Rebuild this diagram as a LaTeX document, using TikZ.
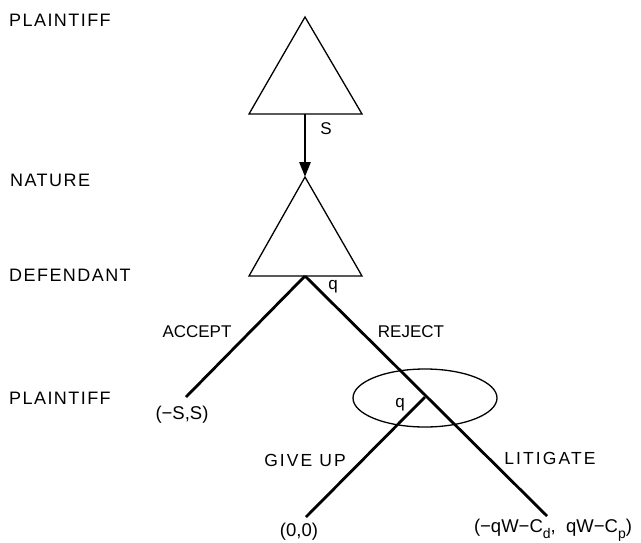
\documentclass[tikz,border=0pt]{standalone}
\usepackage{fontspec}
\setmainfont{Liberation Sans}
\newfontfamily\sidefont[LetterSpace=8]{Liberation Sans}
\newfontfamily\widefont[LetterSpace=12]{Liberation Sans}
\usetikzlibrary{arrows.meta}
\tikzset{
  x=1pt,y=-1pt,
  side/.style={anchor=west,inner sep=0pt,font=\sidefont\fontsize{18}{20}\selectfont},
  lab/.style={inner sep=0pt,font=\fontsize{17}{20}\selectfont},
  widelab/.style={inner sep=0pt,font=\widefont\fontsize{17.5}{20}\selectfont},
  pay/.style={inner sep=0pt,font=\fontsize{18.5}{20}\selectfont},
  tri/.style={line width=1.3pt,line join=miter},
  branch/.style={line width=2.8pt},
  oval/.style={line width=1.3pt},
}
\newcommand{\subtxt}[1]{\raisebox{-0.3em}{\fontsize{14}{16}\selectfont #1}}
\begin{document}
\begin{tikzpicture}
\useasboundingbox (0,0) rectangle (641,542);
% side labels
\node[side] (p1) at (9,20) {PLAINTIFF};
\node[side] (nat) at (10,180) {NATURE};
\node[side] (def) at (9,275) {DEFENDANT};
\node[side] (p2) at (9,398) {PLAINTIFF};
% triangles
\coordinate (t1) at (305,17);
\coordinate (t1l) at (249,114);
\coordinate (t1r) at (362,114);
\coordinate (t1b) at (305,114);
\coordinate (t2) at (305,177);
\coordinate (t2l) at (249,276);
\coordinate (t2r) at (362,276);
\coordinate (dn) at (305,276);
\draw[tri] (t1) -- (t1l) -- (t1r) -- cycle;
\draw[tri] (t2) -- (t2l) -- (t2r) -- cycle;
\draw[line width=2.8pt,-{Triangle[length=15pt,width=11pt]}] (t1b) -- (t2);
\node[lab] (s) at (326,129) {S};
\node[lab] (q1) at (333,287) {q};
% branches
\coordinate (acc) at (186,397);
\coordinate (rej) at (547,516);
\coordinate (pn) at (425,397);
\coordinate (gu) at (306,517);
\draw[branch] (dn) -- (acc);
\draw[branch] (dn) -- (rej);
\draw[branch] (pn) -- (gu);
\draw[oval] (425,398) ellipse [x radius=72, y radius=29];
\node[lab] (q2) at (400,405) {q};
\node[lab] (acclab) at (197,332) {ACCEPT};
\node[lab] (rejlab) at (411,332) {REJECT};
\node[widelab] (gulab) at (305,460) {GIVE\ UP};
\node[widelab] (litlab) at (550,458) {LITIGATE};
\node[pay] (pay1) at (182,415) {(−S,S)};
\node[pay] (pay2) at (299,532) {(0,0)};
\node[pay] (pay3) at (553,530) {(−qW−C\subtxt{d},\ \ qW−C\subtxt{p})};
\end{tikzpicture}
\end{document}
